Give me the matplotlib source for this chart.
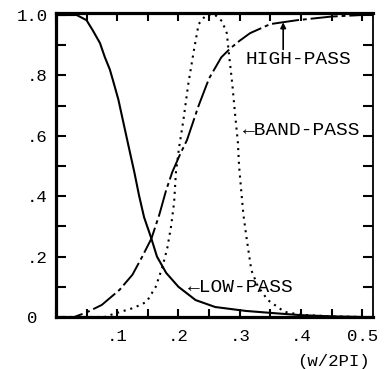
import matplotlib
matplotlib.use("Agg")
import matplotlib.pyplot as plt
import numpy as np

# ------------------------------------
# Data
# ------------------------------------
lp_f = [0.0, 0.034, 0.05, 0.06, 0.072, 0.08, 0.088, 0.093, 0.102, 0.116, 0.128,
        0.136, 0.144, 0.155, 0.165, 0.18, 0.2, 0.228, 0.26, 0.31, 0.36, 0.4,
        0.45, 0.5]
lp_v = [1.0, 1.0, 0.983, 0.95, 0.907, 0.86, 0.82, 0.785, 0.72, 0.59, 0.48,
        0.40, 0.33, 0.265, 0.2, 0.146, 0.1, 0.056, 0.033, 0.02, 0.012, 0.006,
        0.002, 0.0]

hp_f = [0.0, 0.03, 0.05, 0.075, 0.104, 0.125, 0.141, 0.156, 0.169, 0.18, 0.19,
        0.203, 0.214, 0.233, 0.25, 0.27, 0.285, 0.3, 0.317, 0.35, 0.394, 0.45,
        0.5]
hp_v = [0.0, 0.0, 0.015, 0.04, 0.09, 0.14, 0.2, 0.26, 0.34, 0.42, 0.48,
        0.54, 0.586, 0.70, 0.79, 0.86, 0.89, 0.915, 0.94, 0.97, 0.983, 0.995,
        1.0]

bp_f = [0.0, 0.08, 0.094, 0.127, 0.148, 0.163, 0.174, 0.182, 0.188, 0.193,
        0.196, 0.201, 0.208, 0.216, 0.225, 0.233, 0.245, 0.26, 0.271, 0.279,
        0.282, 0.288, 0.293, 0.297, 0.299, 0.302, 0.306, 0.311, 0.315, 0.319,
        0.33, 0.346, 0.373, 0.40, 0.45, 0.5]
bp_v = [0.0, 0.0, 0.01, 0.03, 0.05, 0.10, 0.166, 0.23, 0.30, 0.38,
        0.48, 0.56, 0.65, 0.77, 0.88, 0.97, 1.0, 1.0, 0.98, 0.94,
        0.88, 0.77, 0.66, 0.58, 0.50, 0.43, 0.34, 0.265, 0.21, 0.155,
        0.10, 0.056, 0.017, 0.007, 0.002, 0.0]

x_ticks = np.arange(0, 0.501, 0.05)
x_labels = ['', '', '.1', '', '.2', '', '.3', '', '.4', '', '0.5']
y_ticks = np.arange(0, 1.001, 0.1)
y_labels = ['0 ', '', '.2', '', '.4', '', '.6', '', '.8', '', '1.0']

mono = ['Liberation Mono', 'DejaVu Sans Mono']

# ------------------------------------
# Figure
# ------------------------------------
fig = plt.figure(figsize=(3.88, 3.69), dpi=100)
ax = fig.add_axes([0.144, 0.141, 0.818, 0.824])

ax.plot(lp_f, lp_v, color='black', lw=1.5, linestyle='-')
ax.plot(hp_f, hp_v, color='black', lw=1.4, linestyle=(0, (14, 2, 2, 2)))
ax.plot(bp_f, bp_v, color='black', lw=1.5, linestyle=(0, (1, 2.3)))

ax.set_xlim(0, 0.518)
ax.set_ylim(0, 1.007)

ax.set_xticks(x_ticks)
ax.set_xticklabels(x_labels, family=mono, fontsize=12.5)
ax.set_yticks(y_ticks)
ax.set_yticklabels(y_labels, family=mono, fontsize=12.5)
ax.tick_params(direction='in', top=True, right=True, width=1.5, color='black')
ax.tick_params(axis='x', pad=9, length=6)
ax.tick_params(axis='y', pad=6, length=7.5)

for side in ['left', 'top', 'bottom']:
    ax.spines[side].set_linewidth(2.3)
ax.spines['right'].set_linewidth(1.3)

# Curve labels
ax.text(0.309, 0.854, 'HIGH-PASS', family=mono, fontsize=14, va='center')
ax.annotate('', xy=(0.371, 0.985), xytext=(0.371, 0.877),
            arrowprops=dict(arrowstyle='-|>', color='black', lw=1.2,
                            mutation_scale=8))
ax.text(0.306, 0.619, '\u2190BAND-PASS', family=mono, fontsize=14, va='center')
ax.text(0.216, 0.099, '\u2190LOW-PASS', family=mono, fontsize=14, va='center')

fig.text(0.954, 0.019, '(w/2PI)', family=mono, fontsize=12.5,
         ha='right', va='center')

fig.savefig('out.png', dpi=100)
